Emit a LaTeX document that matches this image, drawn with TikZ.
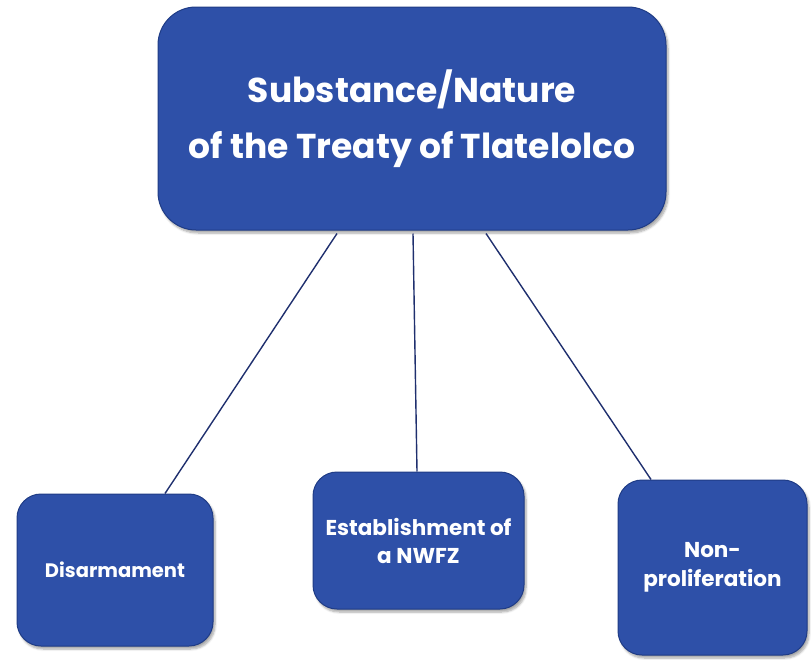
\documentclass[tikz,border=0pt]{standalone}
\usepackage{fontspec}
\setmainfont{Poppins}
\usetikzlibrary{shadows.blur}
\definecolor{boxfill}{HTML}{2E50A8}
\definecolor{boxedge}{HTML}{1F3C86}
\definecolor{linkcol}{HTML}{1F2F6E}
\tikzset{
  x=1pt, y=-1pt,
  bluebox/.style={draw=boxedge, line width=1pt, fill=boxfill, text=white,
    font=\bfseries, align=center, inner sep=0pt,
    blur shadow={shadow xshift=2pt, shadow yshift=-3pt, shadow blur steps=6, shadow opacity=35}},
  link/.style={draw=linkcol, line width=1.4pt}
}
\begin{document}
\begin{tikzpicture}
\useasboundingbox (0,0) rectangle (811,659);
\node[bluebox, rounded corners=38pt, minimum width=508pt, minimum height=223pt,
  font=\bfseries\fontsize{34.5}{56}\selectfont] (top) at (412,118.5)
  {Substance/Nature\\of the Treaty of Tlatelolco};
\node[bluebox, rounded corners=24pt, minimum width=196pt, minimum height=152pt,
  font=\bfseries\fontsize{19.5}{24}\selectfont] (dis) at (115,570) {Disarmament};
\node[bluebox, rounded corners=24pt, minimum width=211pt, minimum height=137pt,
  font=\bfseries\fontsize{21.5}{28}\selectfont] (nwfz) at (418.5,540.5) {Establishment of\\a NWFZ};
\node[bluebox, rounded corners=24pt, minimum width=189pt, minimum height=175pt,
  font=\bfseries\fontsize{21.5}{29}\selectfont] (non) at (712.5,567.5) {Non-\\proliferation};
\draw[link] ([xshift=-75pt,yshift=-3pt]top.south) -- ([xshift=50pt]dis.north);
\draw[link] ([xshift=1pt,yshift=-3pt]top.south) -- ([xshift=-1.5pt]nwfz.north);
\draw[link] ([xshift=74pt,yshift=-3pt]top.south) -- ([xshift=-61.5pt]non.north);
\end{tikzpicture}
\end{document}
